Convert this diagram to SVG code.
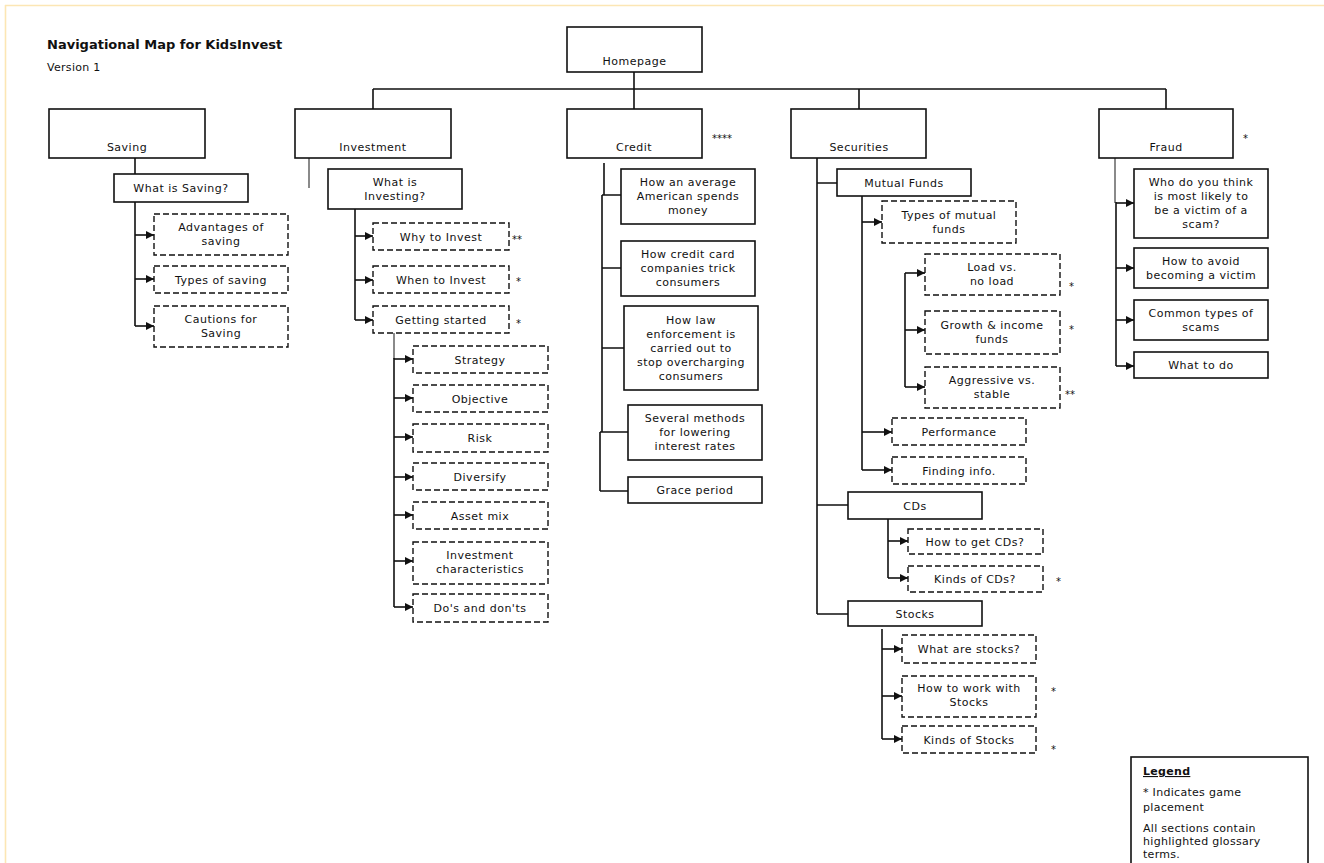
<svg xmlns="http://www.w3.org/2000/svg" width="1324" height="863" viewBox="0 0 1324 863">
<style>
.box{fill:#fff;stroke:#111;stroke-width:1.6}
.dbox{fill:#fff;stroke:#111;stroke-width:1.4;stroke-dasharray:6 3}
.t{font-family:"DejaVu Sans",Verdana,sans-serif;font-size:11px;letter-spacing:0.5px;text-anchor:middle;fill:#111}
.s{font-family:"DejaVu Sans",Verdana,sans-serif;font-size:10px;fill:#111}
.l{font-family:"DejaVu Sans",Verdana,sans-serif;font-size:11px;letter-spacing:0.3px;fill:#111}
.c{fill:none;stroke:#111;stroke-width:1.6}
.g{fill:none;stroke:#8a8a8a;stroke-width:2}
.a{fill:none;stroke:#111;stroke-width:1.6;marker-end:url(#ah)}
</style>
<defs>
<marker id="ah" markerUnits="userSpaceOnUse" markerWidth="8" markerHeight="8" refX="8" refY="4" orient="auto">
<path d="M0,0 L8,4 L0,8 z" fill="#111"/>
</marker>
</defs>
<rect width="1324" height="863" fill="#fff"/>
<path d="M5,5.5 H1324 M5.5,5 V863" stroke="#fce6b4" stroke-width="1.6" fill="none"/>
<text x="47" y="49" font-family="DejaVu Sans,Verdana,sans-serif" font-size="13" font-weight="bold" fill="#111">Navigational Map for KidsInvest</text>
<text x="47" y="71" class="l">Version 1</text>

<g id="connectors">
<path class="c" d="M634,72 V109 M373,89 H1166 M373,89 V109 M859,89 V109 M1166,89 V109"/>
<path class="c" d="M135,158 V174 M135,202 V326"/>
<path class="a" d="M135,235 H154"/><path class="a" d="M135,279 H154"/><path class="a" d="M135,326 H154"/>
<path class="g" d="M309,158 V188"/>
<path class="c" d="M355,209 V320"/>
<path class="a" d="M355,236 H373"/><path class="a" d="M355,280 H373"/><path class="a" d="M355,320 H373"/>
<path class="g" d="M394,333 V359"/>
<path class="c" d="M394,358 V607"/>
<path class="a" d="M394,359 H413"/><path class="a" d="M394,398 H413"/><path class="a" d="M394,437 H413"/><path class="a" d="M394,477 H413"/><path class="a" d="M394,515 H413"/><path class="a" d="M394,561 H413"/><path class="a" d="M394,607 H413"/>
<path class="c" d="M604,163 V195 M602,195 V432 M600,432 V491 M602,195 H621 M602,268 H621 M602,348 H624 M600,432 H628 M600,491 H628"/>
<path class="c" d="M817,158 V614 M817,183 H837 M817,505 H848 M817,614 H848"/>
<path class="c" d="M862,196 V470"/>
<path class="a" d="M862,222 H882"/><path class="a" d="M862,432 H892"/><path class="a" d="M862,470 H892"/>
<path class="c" d="M905,273 V387"/>
<path class="a" d="M905,273 H925"/><path class="a" d="M905,330 H925"/><path class="a" d="M905,387 H925"/>
<path class="c" d="M888,519 V578"/>
<path class="a" d="M888,541 H908"/><path class="a" d="M888,578 H908"/>
<path class="c" d="M882,629 V739"/>
<path class="a" d="M882,649 H902"/><path class="a" d="M882,696 H902"/><path class="a" d="M882,739 H902"/>
<path class="g" d="M1115,158 V203"/>
<path class="c" d="M1116,202 V366"/>
<path class="a" d="M1116,203 H1134"/><path class="a" d="M1116,268 H1134"/><path class="a" d="M1116,320 H1134"/><path class="a" d="M1116,366 H1134"/>
</g>

<g id="homepage"><rect class="box" x="567" y="27" width="135" height="45"/><text class="t" x="634.5" y="65">Homepage</text></g>
<g id="saving"><rect class="box" x="49" y="109" width="156" height="49"/><text class="t" x="127" y="151">Saving</text></g>
<g id="investment"><rect class="box" x="295" y="109" width="156" height="49"/><text class="t" x="373" y="151">Investment</text></g>
<g id="credit"><rect class="box" x="567" y="109" width="135" height="49"/><text class="t" x="634" y="151">Credit</text><text class="s" x="712" y="142">****</text></g>
<g id="securities"><rect class="box" x="791" y="109" width="135" height="49"/><text class="t" x="859" y="151">Securities</text></g>
<g id="fraud"><rect class="box" x="1099" y="109" width="134" height="49"/><text class="t" x="1166" y="151">Fraud</text><text class="s" x="1243" y="142">*</text></g>

<g id="what-is-saving"><rect class="box" x="114" y="174" width="134" height="28"/><text class="t" x="181" y="192">What is Saving?</text></g>
<g id="advantages"><rect class="dbox" x="154" y="214" width="134" height="41"/><text class="t" x="221" y="231">Advantages of</text><text class="t" x="221" y="245">saving</text></g>
<g id="types-saving"><rect class="dbox" x="154" y="266" width="134" height="27"/><text class="t" x="221" y="284">Types of saving</text></g>
<g id="cautions"><rect class="dbox" x="154" y="306" width="134" height="41"/><text class="t" x="221" y="323">Cautions for</text><text class="t" x="221" y="337">Saving</text></g>

<g id="what-is-investing"><rect class="box" x="328" y="169" width="134" height="40"/><text class="t" x="395" y="186">What is</text><text class="t" x="395" y="200">Investing?</text></g>
<g id="why-invest"><rect class="dbox" x="373" y="223" width="136" height="27"/><text class="t" x="441" y="241">Why to Invest</text><text class="s" x="512" y="243">**</text></g>
<g id="when-invest"><rect class="dbox" x="373" y="266" width="136" height="27"/><text class="t" x="441" y="284">When to Invest</text><text class="s" x="516" y="285">*</text></g>
<g id="getting-started"><rect class="dbox" x="373" y="306" width="136" height="27"/><text class="t" x="441" y="324">Getting started</text><text class="s" x="516" y="327">*</text></g>
<g id="strategy"><rect class="dbox" x="413" y="346" width="135" height="27"/><text class="t" x="480" y="364">Strategy</text></g>
<g id="objective"><rect class="dbox" x="413" y="385" width="135" height="27"/><text class="t" x="480" y="403">Objective</text></g>
<g id="risk"><rect class="dbox" x="413" y="424" width="135" height="28"/><text class="t" x="480" y="442">Risk</text></g>
<g id="diversify"><rect class="dbox" x="413" y="463" width="135" height="27"/><text class="t" x="480" y="481">Diversify</text></g>
<g id="asset-mix"><rect class="dbox" x="413" y="502" width="135" height="27"/><text class="t" x="480" y="520">Asset mix</text></g>
<g id="inv-char"><rect class="dbox" x="413" y="542" width="135" height="42"/><text class="t" x="480" y="559">Investment</text><text class="t" x="480" y="573">characteristics</text></g>
<g id="dos-donts"><rect class="dbox" x="413" y="594" width="135" height="28"/><text class="t" x="480" y="612">Do's and don'ts</text></g>

<g id="credit-1"><rect class="box" x="621" y="169" width="134" height="55"/><text class="t" x="688" y="186">How an average</text><text class="t" x="688" y="200">American spends</text><text class="t" x="688" y="214">money</text></g>
<g id="credit-2"><rect class="box" x="621" y="241" width="134" height="55"/><text class="t" x="688" y="258">How credit card</text><text class="t" x="688" y="272">companies trick</text><text class="t" x="688" y="286">consumers</text></g>
<g id="credit-3"><rect class="box" x="624" y="306" width="134" height="84"/><text class="t" x="691" y="324">How law</text><text class="t" x="691" y="338">enforcement is</text><text class="t" x="691" y="352">carried out to</text><text class="t" x="691" y="366">stop overcharging</text><text class="t" x="691" y="380">consumers</text></g>
<g id="credit-4"><rect class="box" x="628" y="405" width="134" height="55"/><text class="t" x="695" y="422">Several methods</text><text class="t" x="695" y="436">for lowering</text><text class="t" x="695" y="450">interest rates</text></g>
<g id="credit-5"><rect class="box" x="628" y="477" width="134" height="26"/><text class="t" x="695" y="494">Grace period</text></g>

<g id="mutual-funds"><rect class="box" x="837" y="169" width="134" height="27"/><text class="t" x="904" y="187">Mutual Funds</text></g>
<g id="types-mutual"><rect class="dbox" x="882" y="201" width="134" height="42"/><text class="t" x="949" y="219">Types of mutual</text><text class="t" x="949" y="233">funds</text></g>
<g id="load"><rect class="dbox" x="925" y="254" width="135" height="41"/><text class="t" x="992" y="271">Load vs.</text><text class="t" x="992" y="285">no load</text><text class="s" x="1069" y="290">*</text></g>
<g id="growth"><rect class="dbox" x="925" y="311" width="135" height="43"/><text class="t" x="992" y="329">Growth &amp; income</text><text class="t" x="992" y="343">funds</text><text class="s" x="1069" y="333">*</text></g>
<g id="aggressive"><rect class="dbox" x="925" y="367" width="135" height="41"/><text class="t" x="992" y="384">Aggressive vs.</text><text class="t" x="992" y="398">stable</text><text class="s" x="1065" y="398">**</text></g>
<g id="performance"><rect class="dbox" x="892" y="418" width="134" height="27"/><text class="t" x="959" y="436">Performance</text></g>
<g id="finding-info"><rect class="dbox" x="892" y="457" width="134" height="27"/><text class="t" x="959" y="475">Finding info.</text></g>
<g id="cds"><rect class="box" x="848" y="492" width="134" height="27"/><text class="t" x="915" y="510">CDs</text></g>
<g id="get-cds"><rect class="dbox" x="908" y="529" width="135" height="25"/><text class="t" x="975" y="546">How to get CDs?</text></g>
<g id="kinds-cds"><rect class="dbox" x="908" y="566" width="135" height="26"/><text class="t" x="975" y="583">Kinds of CDs?</text><text class="s" x="1056" y="585">*</text></g>
<g id="stocks"><rect class="box" x="848" y="601" width="134" height="25"/><text class="t" x="915" y="618">Stocks</text></g>
<g id="what-stocks"><rect class="dbox" x="902" y="635" width="134" height="28"/><text class="t" x="969" y="653">What are stocks?</text></g>
<g id="work-stocks"><rect class="dbox" x="902" y="676" width="134" height="41"/><text class="t" x="969" y="692">How to work with</text><text class="t" x="969" y="706">Stocks</text><text class="s" x="1051" y="695">*</text></g>
<g id="kinds-stocks"><rect class="dbox" x="902" y="726" width="134" height="27"/><text class="t" x="969" y="744">Kinds of Stocks</text><text class="s" x="1051" y="753">*</text></g>

<g id="fraud-1"><rect class="box" x="1134" y="169" width="134" height="69"/><text class="t" x="1201" y="186">Who do you think</text><text class="t" x="1201" y="200">is most likely to</text><text class="t" x="1201" y="214">be a victim of a</text><text class="t" x="1201" y="228">scam?</text></g>
<g id="fraud-2"><rect class="box" x="1134" y="248" width="134" height="40"/><text class="t" x="1201" y="265">How to avoid</text><text class="t" x="1201" y="279">becoming a victim</text></g>
<g id="fraud-3"><rect class="box" x="1134" y="300" width="134" height="40"/><text class="t" x="1201" y="317">Common types of</text><text class="t" x="1201" y="331">scams</text></g>
<g id="fraud-4"><rect class="box" x="1134" y="352" width="134" height="26"/><text class="t" x="1201" y="369">What to do</text></g>

<g id="legend"><rect class="box" x="1131" y="757" width="177" height="120"/>
<text class="l" x="1143" y="775" font-weight="bold" text-decoration="underline">Legend</text>
<text class="l" x="1143" y="796">*  Indicates game</text>
<text class="l" x="1143" y="811">placement</text>
<text class="l" x="1143" y="832">All sections contain</text>
<text class="l" x="1143" y="845">highlighted glossary</text>
<text class="l" x="1143" y="858">terms.</text>
</g>
</svg>
